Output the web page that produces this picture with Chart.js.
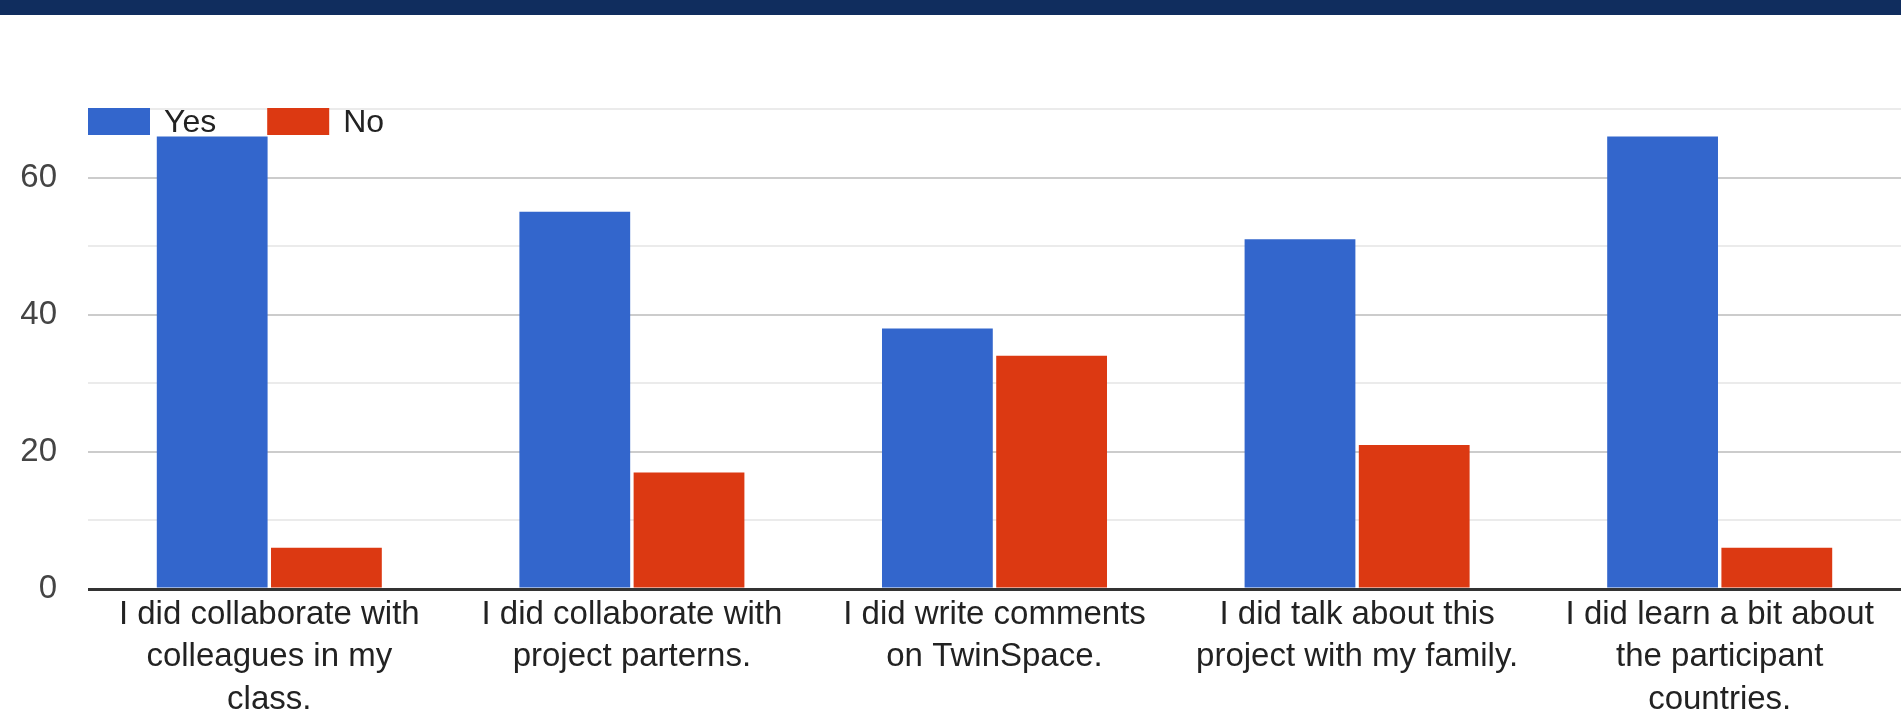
<!DOCTYPE html>
<html lang="en">
<head>
    <meta charset="UTF-8">
    <title>Project survey - Yes / No</title>
    <script src="https://cdn.jsdelivr.net/npm/chart.js"></script>
    <style>
        html, body {
            margin: 0;
            padding: 0;
            background: #fff;
        }
        .band {
            height: 15px;
            background: #102d5e;
        }
        .chart-box {
            position: relative;
            width: 1901px;
            height: 709px;
        }
    </style>
</head>
<body>
    <div class="band"></div>
    <div class="chart-box">
        <canvas id="chartSurvey"></canvas>
    </div>

    <script>
        const categories = [
            ['I did collaborate with', 'colleagues in my', 'class.'],
            ['I did collaborate with', 'project parterns.'],
            ['I did write comments', 'on TwinSpace.'],
            ['I did talk about this', 'project with my family.'],
            ['I did learn a bit about', 'the participant', 'countries.']
        ];
        const seriesNames = ['Yes', 'No'];
        const yesValues = [66, 55, 38, 51, 66];
        const noValues = [6, 17, 34, 21, 6];
        const yTickLabels = [0, 20, 40, 60];

        const FONT = '"Liberation Sans", Arial, sans-serif';

        // legend drawn inside the plot, on top of the first gridline
        const insideLegend = {
            id: 'insideLegend',
            afterDatasetsDraw(chart) {
                const ctx = chart.ctx;
                const area = chart.chartArea;
                let x = area.left;
                const y = area.top - 1;
                ctx.save();
                ctx.font = '32px ' + FONT;
                ctx.textBaseline = 'middle';
                ctx.textAlign = 'left';
                chart.data.datasets.forEach(ds => {
                    ctx.fillStyle = ds.backgroundColor;
                    ctx.fillRect(x, y, 62, 27);
                    ctx.fillStyle = '#222';
                    ctx.fillText(ds.label, x + 76, y + 15);
                    x += 76 + ctx.measureText(ds.label).width + 51;
                });
                ctx.restore();
            }
        };

        const ctx = document.getElementById('chartSurvey').getContext('2d');
        const chart = new Chart(ctx, {
            type: 'bar',
            data: {
                labels: categories,
                datasets: [{
                    label: seriesNames[0],
                    data: yesValues,
                    backgroundColor: '#3366cc'
                }, {
                    label: seriesNames[1],
                    data: noValues,
                    backgroundColor: '#dc3912'
                }]
            },
            options: {
                responsive: true,
                maintainAspectRatio: false,
                animation: false,
                categoryPercentage: 0.63,
                barPercentage: 0.97,
                layout: {
                    padding: { top: 94, right: 0, bottom: 0, left: 0 }
                },
                plugins: {
                    legend: { display: false },
                    tooltip: { enabled: false }
                },
                scales: {
                    x: {
                        grid: { display: false },
                        border: { display: false },
                        ticks: {
                            color: '#222',
                            font: { family: FONT, size: 33, lineHeight: 1.3 },
                            maxRotation: 0,
                            autoSkip: false,
                            padding: -4
                        },
                        afterFit: scale => { scale.height = 135; }
                    },
                    y: {
                        min: 0,
                        max: 70,
                        border: { display: false },
                        grid: {
                            drawTicks: false,
                            color: c => c.tick.value === 0 ? '#333333'
                                : (yTickLabels.includes(c.tick.value) ? '#cccccc' : '#ebebeb'),
                            lineWidth: c => c.tick.value === 0 ? 3 : 2
                        },
                        ticks: {
                            stepSize: 10,
                            padding: 31,
                            color: '#444',
                            font: { family: FONT, size: 33 },
                            callback: v => yTickLabels.includes(v) ? v : ''
                        },
                        afterFit: scale => { scale.width = 88; }
                    }
                }
            },
            plugins: [insideLegend]
        });
    </script>
</body>
</html>
